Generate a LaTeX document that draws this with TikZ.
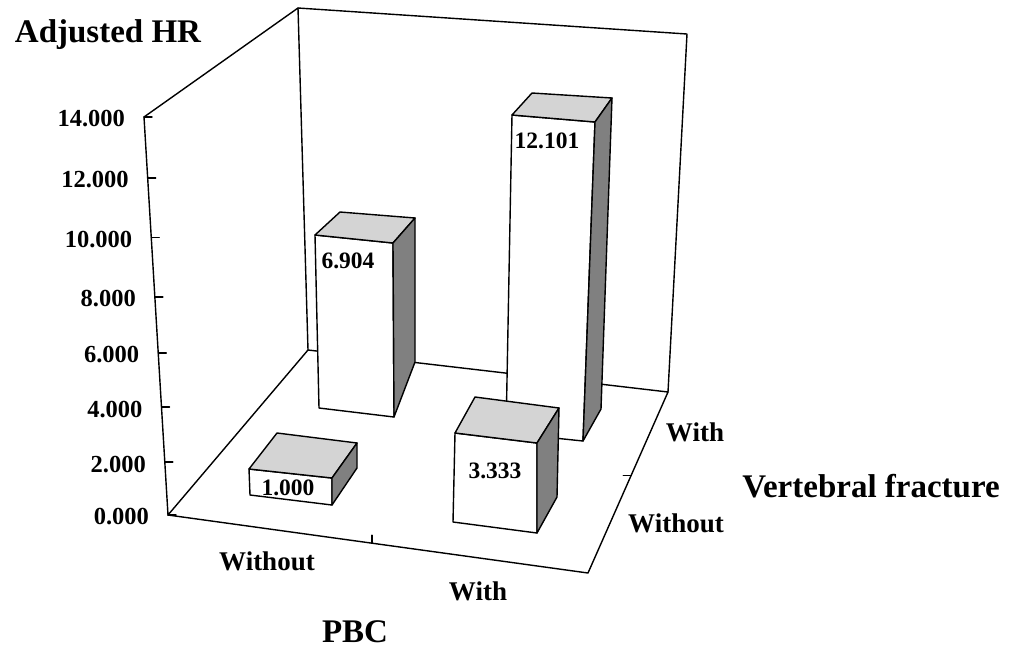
\documentclass[tikz,border=0pt]{standalone}
\usepackage{fontspec}
\setmainfont{Liberation Serif}
\usetikzlibrary{calc}

\definecolor{bartop}{RGB}{212,212,212}
\definecolor{barside}{RGB}{128,128,128}

\tikzset{
  titlelbl/.style={font=\fontsize{33}{36}\selectfont\bfseries},
  catlbl/.style={font=\fontsize{27}{30}\selectfont\bfseries},
  ticklbl/.style={font=\fontsize{24.5}{28}\selectfont\bfseries,anchor=east},
  barlbl/.style={font=\fontsize{23.5}{26}\selectfont\bfseries},
}

% front face A B C D, back top E F, back bottom G
\newcommand\hrbar[7]{%
  \filldraw[fill=white] #1 -- #2 -- #3 -- #4 -- cycle;
  \filldraw[fill=bartop] #1 -- #5 -- #6 -- #2 -- cycle;
  \filldraw[fill=barside] #2 -- #6 -- #7 -- #3 -- cycle;
}

\begin{document}
\begin{tikzpicture}[x=1pt,y=-1pt,line join=round,line cap=round,line width=1.4pt]
\useasboundingbox (0,0) rectangle (1023,649);
\coordinate (O) at (168,515);
\coordinate (ytop) at (144,117);
\coordinate (lback) at (298,8);
\coordinate (bl) at (308,350);
\coordinate (rtop) at (687,34);
\coordinate (br) at (668,392);
\coordinate (fr) at (588,573);
\draw (O) -- (ytop) -- (lback) -- (bl) -- cycle;
\draw (lback) -- (rtop) -- (br) -- (bl);
\draw (O) -- (fr) -- (br);
\foreach \t/\v [count=\i] in {0/14.000,.153/12.000,.302/10.000,.452/8.000,.593/6.000,.729/4.000,.867/2.000,1/0.000}{
    \draw ($(ytop)!\t!(O)$) coordinate (tk\i) -- ++(8,0);
    \node[ticklbl,xshift=-15pt,yshift=-2pt] (tick\i) at (tk\i) {\v};
}
\draw ($(O)!.486!(fr)$) -- ++(0,-8);
\draw ($(fr)!.54!(br)$) -- ++(-8,0);
% bars, back to front
\hrbar{(315,235)}{(393,243)}{(394,417)}{(319,408)}{(340,212)}{(415,218)}{(415,362)}
\hrbar{(512,115)}{(595,122)}{(583,441)}{(506,433)}{(532,93)}{(612,98)}{(601,409)}
\hrbar{(249,469)}{(332,478)}{(332,505)}{(250,495)}{(277,433)}{(357,443)}{(357,468)}
\hrbar{(455,433)}{(537,443)}{(537,533)}{(453,522)}{(475,397)}{(559,408)}{(557,497)}
\node[barlbl] (v1) at (288,488) {1.000};
\node[barlbl] (v2) at (495,471) {3.333};
\node[barlbl] (v3) at (348,261) {6.904};
\node[barlbl] (v4) at (547,141) {12.101};
\node[titlelbl] (hr) at (108,35) {Adjusted HR};
\node[catlbl] (pbcno) at (267,561) {Without};
\node[catlbl] (pbcyes) at (478,591) {With};
\node[titlelbl] (pbc) at (355,632) {PBC};
\node[catlbl] (vfyes) at (695,432) {With};
\node[catlbl] (vfno) at (676,523) {Without};
\node[titlelbl] (vf) at (871,486) {Vertebral fracture};
\end{tikzpicture}
\end{document}
